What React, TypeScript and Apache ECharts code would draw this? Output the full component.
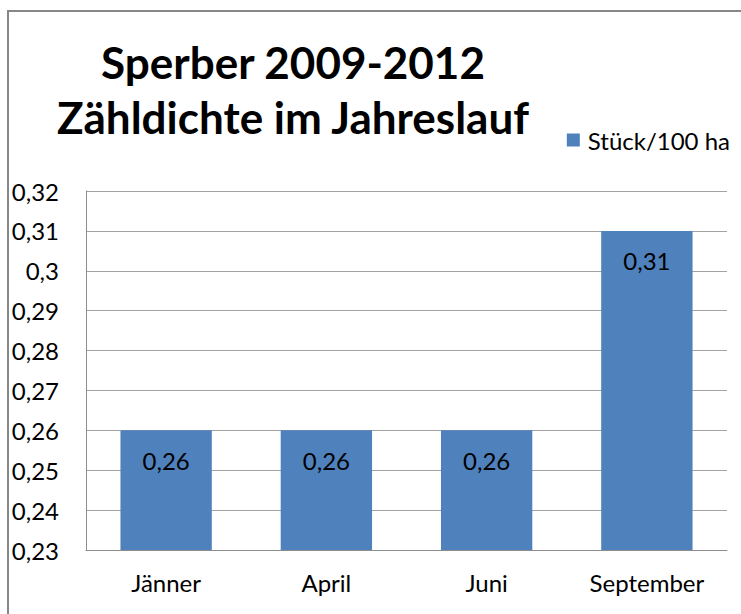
import React, { useEffect, useRef } from "react";
import * as echarts from "echarts";

const categories = ["Jänner", "April", "Juni", "September"];
const values = [0.26, 0.26, 0.26, 0.31];
const seriesName = "Stück/100 ha";
const titleLines = ["Sperber 2009-2012", "Zähldichte im Jahreslauf"];

const fmt = (v: number) => String(Number(v.toFixed(2))).replace(".", ",");

export default function App() {
  const ref = useRef<HTMLDivElement>(null);
  useEffect(() => {
    if (!ref.current) return;
    const chart = echarts.init(ref.current, null, { renderer: "svg" });
    const font = "Lato";
    chart.setOption({
      animation: false,
      backgroundColor: "#ffffff",
      title: {
        text: titleLines.join("\n"),
        left: 288,
        top: 29,
        textAlign: "center",
        textStyle: {
          fontFamily: font,
          fontWeight: "bold",
          fontSize: 44,
          lineHeight: 55,
          color: "#000000",
        },
      },
      legend: {
        data: [seriesName],
        right: 6,
        top: 123,
        itemWidth: 13,
        itemHeight: 13,
        itemGap: 6,
        icon: "rect",
        textStyle: { fontFamily: font, fontSize: 24, color: "#000000", padding: [0, 0, 0, 3] },
      },
      graphic: [
        {
          type: "rect",
          shape: { x: 8, y: 11, width: 800, height: 700 },
          style: { fill: "none", stroke: "#878787", lineWidth: 2 },
          silent: true,
        },
      ],
      grid: { left: 86, right: 14, top: 191, bottom: 64, containLabel: false },
      xAxis: {
        type: "category",
        data: categories,
        axisLine: { show: true, lineStyle: { color: "#8c8c8c", width: 1 } },
        axisTick: { show: false },
        axisLabel: { fontFamily: font, fontSize: 24, color: "#000000", margin: 20 },
      },
      yAxis: {
        type: "value",
        min: 0.23,
        max: 0.32,
        interval: 0.01,
        axisLine: { show: true, lineStyle: { color: "#8c8c8c", width: 1 } },
        axisTick: { show: false },
        splitLine: { show: true, lineStyle: { color: "#a3a3a3", width: 1 } },
        axisLabel: {
          fontFamily: font,
          fontSize: 24,
          color: "#000000",
          margin: 27,
          formatter: (v: number) => fmt(v),
        },
      },
      series: [
        {
          name: seriesName,
          type: "bar",
          data: values,
          barWidth: "57%",
          itemStyle: { color: "#4F81BD" },
          label: {
            show: true,
            position: "insideTop",
            distance: 18,
            fontFamily: font,
            fontSize: 24,
            color: "#000000",
            formatter: (p: any) => fmt(p.value),
          },
        },
      ],
    });
    return () => chart.dispose();
  }, []);
  return (
    <div
      ref={ref}
      style={{ position: "absolute", left: 0, top: 0, width: 741, height: 614 }}
    />
  );
}
